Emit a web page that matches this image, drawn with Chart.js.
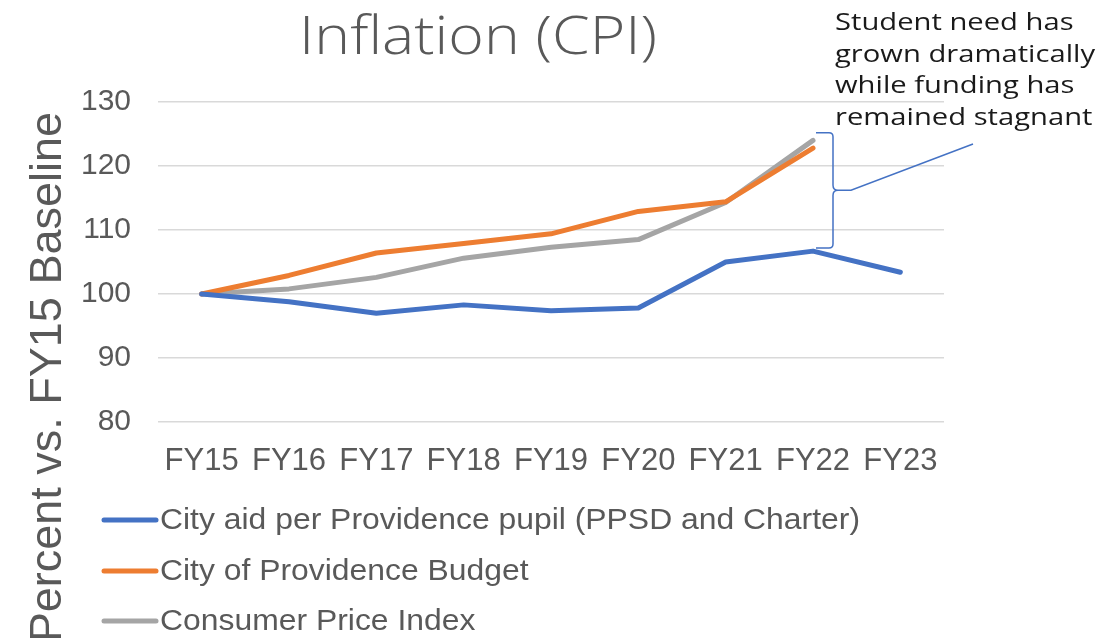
<!DOCTYPE html>
<html><head><meta charset="utf-8">
<script src="https://cdn.jsdelivr.net/npm/chart.js@4.4.1/dist/chart.umd.min.js"></script>
<style>html,body{margin:0;padding:0;background:#fff;overflow:hidden}#wrap{width:1102px;height:638px;position:relative}</style>
</head><body><div id="wrap"><canvas id="c" width="1102" height="638"></canvas></div>
<script>
const categories = ['FY15','FY16','FY17','FY18','FY19','FY20','FY21','FY22','FY23'];
const cityAid    = [100, 98.8, 97.0, 98.3, 97.4, 97.8, 105.0, 106.7, 103.4];
const cityBudget = [100, 102.9, 106.4, 107.9, 109.4, 112.9, 114.4, 122.8, null];
const cpi        = [100, 100.8, 102.6, 105.6, 107.3, 108.5, 114.3, 124.0, null];
const seriesLabels = ['City aid per Providence pupil (PPSD and Charter)', 'City of Providence Budget', 'Consumer Price Index'];
const seriesColors = ['#4472C4', '#ED7D31', '#A5A5A5'];
const yMin = 80, yMax = 130, yStep = 10;
const chartTitle = 'Inflation (CPI)';
const yAxisTitle = 'Percent vs. FY15 Baseline';
const noteLines = ['Student need has', 'grown dramatically', 'while funding has', 'remained stagnant'];

const TEXT = '#595959';
const SANS = '"Liberation Sans", Arial, sans-serif';
const WIDE = '"Open Sans", "DejaVu Sans", sans-serif';

// draw text stretched horizontally to a target width
function fitText(ctx, text, x, y, width, align) {
  const w = ctx.measureText(text).width;
  const k = width / w;
  ctx.save();
  ctx.translate(x, y);
  ctx.scale(k, 1);
  ctx.textAlign = align || 'left';
  ctx.fillText(text, 0, 0);
  ctx.restore();
}

const extras = {
  id: 'extras',
  afterDraw(chart) {
    const ctx = chart.ctx;
    const xs = chart.scales.x, ys = chart.scales.y;
    ctx.save();
    // Title
    ctx.fillStyle = TEXT;
    ctx.font = '300 53px ' + WIDE;
    ctx.textBaseline = 'alphabetic';
    fitText(ctx, chartTitle, 478, 54, 358, 'center');
    // Y axis title
    ctx.save();
    ctx.translate(61, 112);
    ctx.rotate(-Math.PI / 2);
    ctx.font = '45px ' + SANS;
    ctx.textAlign = 'right';
    ctx.fillText(yAxisTitle, 0, 0);
    ctx.restore();
    // Legend (vertical list)
    const legY = [520, 571, 621];
    chart.data.datasets.forEach((ds, i) => {
      ctx.strokeStyle = ds.borderColor;
      ctx.lineWidth = 5;
      ctx.lineCap = 'round';
      ctx.beginPath();
      ctx.moveTo(104, legY[i]);
      ctx.lineTo(156, legY[i]);
      ctx.stroke();
      ctx.fillStyle = TEXT;
      ctx.font = '30px ' + SANS;
      ctx.textBaseline = 'middle';
      const k = 700 / ctx.measureText(seriesLabels[0]).width;
      ctx.save();
      ctx.translate(160, legY[i] + 1);
      ctx.scale(k, 1);
      ctx.textAlign = 'left';
      ctx.fillText(ds.label, 0, 0);
      ctx.restore();
    });
    // Bracket annotation
    const xb = xs.getPixelForValue(7) + 20;
    const yT = ys.getPixelForValue(cpi[7] + 1.2);
    const yB = ys.getPixelForValue(cityAid[7] + 0.5);
    const yM = (yT + yB) / 2;
    ctx.strokeStyle = '#4472C4';
    ctx.lineWidth = 1.5;
    ctx.lineCap = 'butt';
    ctx.beginPath();
    ctx.moveTo(xb - 17, yT);
    ctx.lineTo(xb - 4, yT);
    ctx.quadraticCurveTo(xb, yT, xb, yT + 4);
    ctx.lineTo(xb, yM - 5);
    ctx.quadraticCurveTo(xb, yM, xb + 5, yM);
    ctx.quadraticCurveTo(xb, yM, xb, yM + 5);
    ctx.lineTo(xb, yB - 4);
    ctx.quadraticCurveTo(xb, yB, xb - 4, yB);
    ctx.lineTo(xb - 17, yB);
    ctx.stroke();
    ctx.beginPath();
    ctx.moveTo(xb + 5, yM);
    ctx.lineTo(xb + 18, yM);
    ctx.lineTo(973, 144);
    ctx.stroke();
    // Note text
    ctx.fillStyle = '#1a1a1a';
    ctx.font = '24px ' + WIDE;
    ctx.textBaseline = 'alphabetic';
    const kn = 260 / ctx.measureText(noteLines[1]).width;
    noteLines.forEach((t, i) => {
      ctx.save();
      ctx.translate(835, 30 + i * 31.7);
      ctx.scale(kn, 1);
      ctx.textAlign = 'left';
      ctx.fillText(t, 0, 0);
      ctx.restore();
    });
    ctx.restore();
  }
};

const mk = (i, data) => ({
  label: seriesLabels[i], data, borderColor: seriesColors[i], backgroundColor: seriesColors[i],
  borderWidth: 5, pointRadius: 0, pointHoverRadius: 0, tension: 0,
  borderCapStyle: 'round', borderJoinStyle: 'round', spanGaps: false
});

new Chart(document.getElementById('c'), {
  type: 'line',
  data: {
    labels: categories,
    datasets: [mk(0, cityAid), mk(1, cityBudget), mk(2, cpi)]
  },
  options: {
    responsive: false, animation: false,
    layout: { padding: { top: 102, right: 158, left: 0, bottom: 0 } },
    plugins: { legend: { display: false }, title: { display: false }, tooltip: { enabled: false } },
    scales: {
      x: {
        offset: true,
        grid: { display: false, drawTicks: false },
        border: { display: false },
        ticks: { color: TEXT, font: { family: SANS, size: 31 }, padding: 21, maxRotation: 0, autoSkip: false },
        afterFit(s) { s.height = 216; }
      },
      y: {
        min: yMin, max: yMax,
        grid: { color: '#d9d9d9', lineWidth: 1.5, drawTicks: false },
        border: { display: false },
        ticks: { stepSize: yStep, color: TEXT, font: { family: SANS, size: 30 }, padding: 27 },
        afterFit(s) { s.width = 158; }
      }
    }
  },
  plugins: [extras]
});
</script></body></html>
